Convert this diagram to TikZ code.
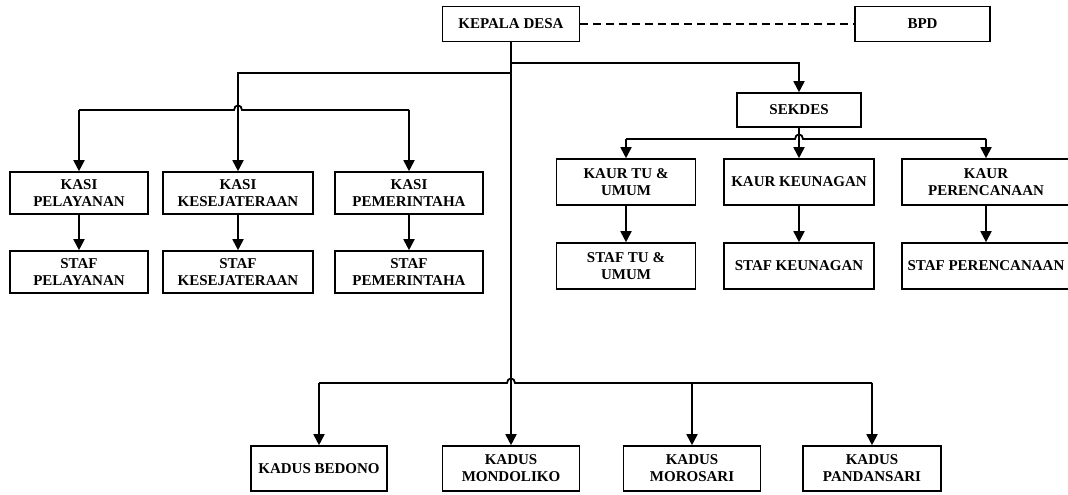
\documentclass[tikz,border=0pt]{standalone}
\usepackage{fontspec}
\setmainfont{Liberation Serif}
\usetikzlibrary{arrows.meta,calc}
\begin{document}
\begin{tikzpicture}[x=1pt,y=-1pt,
  box/.style={draw, line width=1.6pt, align=center, inner sep=0pt,
    font=\bfseries\fontsize{15}{17}\selectfont},
  conn/.style={line width=1.8pt},
  arr/.style={conn,-{Triangle[length=11pt,width=11pt]}}]
\useasboundingbox (0,0) rectangle (1068,495);

% top
\node[box,minimum width=137,minimum height=35] (kd) at (511,24) {KEPALA DESA};
\node[box,minimum width=135,minimum height=35] (bpd) at (922.5,24) {BPD};
\node[box,minimum width=124,minimum height=34] (sek) at (799,110) {SEKDES};

% kasi
\node[box,minimum width=138,minimum height=42] (kasi1) at (79,193) {KASI\\PELAYANAN};
\node[box,minimum width=150,minimum height=42] (kasi2) at (238,193) {KASI\\KESEJATERAAN};
\node[box,minimum width=148,minimum height=42] (kasi3) at (409,193) {KASI\\PEMERINTAHA};
\node[box,minimum width=138,minimum height=42] (staf1) at (79,272) {STAF\\PELAYANAN};
\node[box,minimum width=150,minimum height=42] (staf2) at (238,272) {STAF\\KESEJATERAAN};
\node[box,minimum width=148,minimum height=42] (staf3) at (409,272) {STAF\\PEMERINTAHA};

% kaur
\node[box,minimum width=139,minimum height=46] (kaur1) at (626,182) {KAUR TU \&\\UMUM};
\node[box,minimum width=150,minimum height=46] (kaur2) at (799,182) {KAUR KEUNAGAN};
\node[box,minimum width=168,minimum height=46] (kaur3) at (986,182) {KAUR\\PERENCANAAN};
\node[box,minimum width=139,minimum height=46] (stk1) at (626,266) {STAF TU \&\\UMUM};
\node[box,minimum width=150,minimum height=46] (stk2) at (799,266) {STAF KEUNAGAN};
\node[box,minimum width=168,minimum height=46] (stk3) at (986,266) {STAF PERENCANAAN};

% kadus
\node[box,minimum width=136,minimum height=45] (bed) at (319,468.5) {KADUS BEDONO};
\node[box,minimum width=137,minimum height=45] (mond) at (511,468.5) {KADUS\\MONDOLIKO};
\node[box,minimum width=137,minimum height=45] (moro) at (692,468.5) {KADUS\\MOROSARI};
\node[box,minimum width=138,minimum height=45] (pand) at (872,468.5) {KADUS\\PANDANSARI};

% level coordinates
\coordinate (ys) at (0,63);
\coordinate (yl) at (0,73);
\coordinate (ylb) at (0,110);
\coordinate (yrb) at (0,139);
\coordinate (ykb) at (0,383);

% connectors
\draw[conn, dash pattern=on 8pt off 5pt] (kd.east) -- (bpd.west);
\draw[arr] (kd.south) -- (mond.north);
\draw[arr] (kd.south |- ys) -| (sek.north);
\draw[arr] (kd.south |- yl) -| (kasi2.north);

% left bar with hop
\draw[conn] (kasi1.north |- ylb) -- ($(kasi2.north |- ylb)+(-4,0)$)
  .. controls +(0,-6) and +(0,-6) .. ($(kasi2.north |- ylb)+(4,0)$) -- (kasi3.north |- ylb);
\draw[arr] (kasi1.north |- ylb) -- (kasi1.north);
\draw[arr] (kasi3.north |- ylb) -- (kasi3.north);
\draw[arr] (kasi1.south) -- (staf1.north);
\draw[arr] (kasi2.south) -- (staf2.north);
\draw[arr] (kasi3.south) -- (staf3.north);

% right bar with hop
\draw[arr] (sek.south) -- (kaur2.north);
\draw[conn] (kaur1.north |- yrb) -- ($(sek.south |- yrb)+(-4,0)$)
  .. controls +(0,-6) and +(0,-6) .. ($(sek.south |- yrb)+(4,0)$) -- (kaur3.north |- yrb);
\draw[arr] (kaur1.north |- yrb) -- (kaur1.north);
\draw[arr] (kaur3.north |- yrb) -- (kaur3.north);
\draw[arr] (kaur1.south) -- (stk1.north);
\draw[arr] (kaur2.south) -- (stk2.north);
\draw[arr] (kaur3.south) -- (stk3.north);

% kadus bar with hop
\draw[conn] (bed.north |- ykb) -- ($(kd.south |- ykb)+(-4,0)$)
  .. controls +(0,-6) and +(0,-6) .. ($(kd.south |- ykb)+(4,0)$) -- (pand.north |- ykb);
\draw[arr] (bed.north |- ykb) -- (bed.north);
\draw[arr] (moro.north |- ykb) -- (moro.north);
\draw[arr] (pand.north |- ykb) -- (pand.north);
\end{tikzpicture}
\end{document}
